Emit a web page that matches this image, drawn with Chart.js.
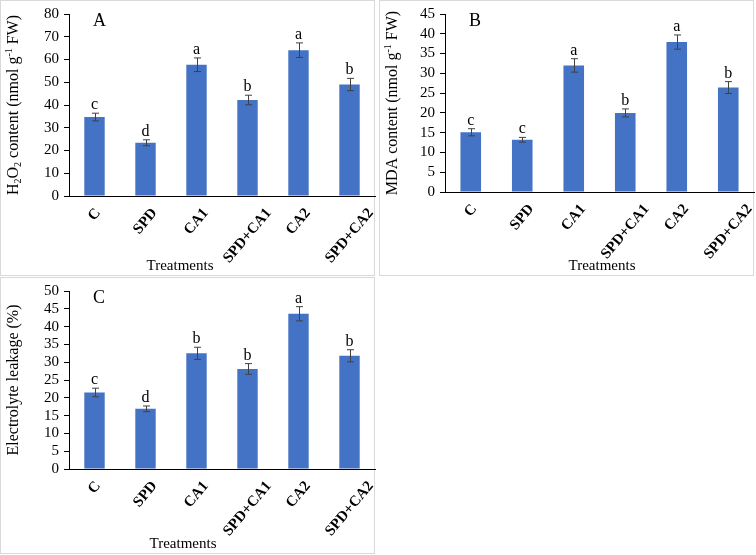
<!DOCTYPE html>
<html>
<head>
<meta charset="utf-8">
<script src="https://cdn.jsdelivr.net/npm/chart.js@4"></script>
<style>
    body { margin: 0; background: #fff; width: 756px; height: 555px; position: relative; overflow: hidden; }
    canvas { position: absolute; }
</style>
</head>
<body>
<canvas id="chartA" width="376" height="276" style="left:0px;top:0px"></canvas>
<canvas id="chartB" width="376" height="276" style="left:379px;top:0px"></canvas>
<canvas id="chartC" width="376" height="277" style="left:0px;top:277px"></canvas>
<script>
const TREATMENTS = ['C', 'SPD', 'CA1', 'SPD+CA1', 'CA2', 'SPD+CA2'];

// A - H2O2
const h2o2 = [34.7, 23.4, 57.7, 42.2, 64.1, 49.0];
const h2o2Err = [1.7, 1.3, 3.0, 2.1, 3.2, 2.7];
const h2o2Letters = ['c', 'd', 'a', 'b', 'a', 'b'];

// B - MDA
const mda = [15.1, 13.2, 32.0, 20.0, 37.9, 26.4];
const mdaErr = [0.9, 0.6, 1.7, 1.0, 1.8, 1.5];
const mdaLetters = ['c', 'c', 'a', 'b', 'a', 'b'];

// C - electrolyte leakage
const leakage = [21.5, 16.9, 32.5, 28.1, 43.6, 31.8];
const leakageErr = [1.2, 0.8, 1.7, 1.5, 2.0, 1.7];
const leakageLetters = ['c', 'd', 'b', 'b', 'a', 'b'];

const SERIF = "'Liberation Serif', 'Times New Roman', serif";
const BAR_COLOR = '#4472C4';
const LABEL_ANGLE = 50 * Math.PI / 180;

// draws text with sub/superscript pieces, rotated -90deg, centered on cx,cy
function drawRichVertical(ctx, parts, cx, cy, size) {
    var small = Math.round(size * 0.65);
    var total = 0;
    parts.forEach(function (p) {
        ctx.font = (p[1] == 'n' ? size : small) + 'px ' + SERIF;
        total += ctx.measureText(p[0]).width;
    });
    ctx.save();
    ctx.translate(cx, cy);
    ctx.rotate(-Math.PI / 2);
    ctx.fillStyle = '#000';
    ctx.textBaseline = 'middle';
    ctx.textAlign = 'left';
    var x = -total / 2;
    parts.forEach(function (p) {
        var dy = 0;
        if (p[1] == 'sub') dy = size * 0.3;
        if (p[1] == 'sup') dy = -size * 0.3;
        ctx.font = (p[1] == 'n' ? size : small) + 'px ' + SERIF;
        ctx.fillText(p[0], x, dy);
        x += ctx.measureText(p[0]).width;
    });
    ctx.restore();
}

const panelDecor = {
    id: 'panelDecor',
    beforeDraw(chart) {
        var ctx = chart.ctx;
        ctx.save();
        ctx.fillStyle = '#fff';
        ctx.fillRect(0, 0, chart.width, chart.height);
        ctx.strokeStyle = '#d9d9d9';
        ctx.lineWidth = 1;
        ctx.strokeRect(0.5, 0.5, chart.width - 2, chart.height - 1);
        ctx.restore();
    },
    afterDatasetsDraw(chart, args, opts) {
        var ctx = chart.ctx;
        var y = chart.scales.y;
        var xs = chart.scales.x;
        var meta = chart.getDatasetMeta(0);
        var vals = chart.data.datasets[0].data;
        ctx.save();
        ctx.strokeStyle = '#404040';
        ctx.lineWidth = 1;
        meta.data.forEach(function (bar, i) {
            var e = opts.err[i];
            var top = y.getPixelForValue(vals[i] + e);
            var bot = y.getPixelForValue(vals[i] - e);
            var x = Math.round(bar.x) + 0.5;
            ctx.beginPath();
            ctx.moveTo(x, top); ctx.lineTo(x, bot);
            ctx.moveTo(x - 3.5, top); ctx.lineTo(x + 3.5, top);
            ctx.moveTo(x - 3.5, bot); ctx.lineTo(x + 3.5, bot);
            ctx.stroke();
            ctx.fillStyle = '#000';
            ctx.font = '16px ' + SERIF;
            ctx.textAlign = 'center';
            ctx.textBaseline = 'alphabetic';
            ctx.fillText(opts.letters[i], bar.x, top - 4);
        });
        // category labels, rotated and centred under each bar (excel style)
        ctx.font = 'bold 15px ' + SERIF;
        ctx.textAlign = 'center';
        ctx.textBaseline = 'middle';
        chart.data.labels.forEach(function (lab, i) {
            var w = ctx.measureText(lab).width;
            var h = 11;
            var half = (w * Math.sin(LABEL_ANGLE) + h * Math.cos(LABEL_ANGLE)) / 2;
            ctx.save();
            ctx.translate(xs.getPixelForValue(i), xs.top + 11 + half);
            ctx.rotate(-LABEL_ANGLE);
            ctx.fillText(lab, 0, 0);
            ctx.restore();
        });
        // panel letter
        ctx.font = '18px ' + SERIF;
        ctx.textAlign = 'left';
        ctx.textBaseline = 'middle';
        ctx.fillText(opts.panel, chart.chartArea.left + 24, 21);
        // axis titles
        ctx.font = '15px ' + SERIF;
        ctx.textAlign = 'center';
        ctx.fillText('Treatments', opts.xTitleX, chart.height - 10);
        drawRichVertical(ctx, opts.yTitle, 14, (chart.chartArea.top + chart.chartArea.bottom) / 2, 16);
        ctx.restore();
    }
};

function makePanel(id, values, errs, letters, panel, yTitle, yMax, step, axisX, axisY, xTitleX) {
    var canvas = document.getElementById(id);
    var H = canvas.height;
    return new Chart(canvas, {
        type: 'bar',
        data: {
            labels: TREATMENTS,
            datasets: [{
                data: values,
                backgroundColor: BAR_COLOR,
                barPercentage: 0.4,
                categoryPercentage: 1.0
            }]
        },
        options: {
            responsive: false,
            animation: false,
            devicePixelRatio: 1,
            layout: { padding: { left: 0, right: 1, top: 10, bottom: 0 } },
            plugins: {
                legend: { display: false },
                tooltip: { enabled: false },
                panelDecor: { err: errs, letters: letters, panel: panel, yTitle: yTitle, xTitleX: xTitleX }
            },
            scales: {
                x: {
                    grid: { display: false, drawTicks: false },
                    border: { display: true, color: '#000', width: 1 },
                    ticks: { display: false },
                    afterFit: function (s) { s.height = H - axisY; }
                },
                y: {
                    min: 0,
                    max: yMax,
                    grid: { display: true, drawOnChartArea: false, drawTicks: true, tickLength: 5, color: '#000' },
                    border: { display: true, color: '#000', width: 1 },
                    ticks: {
                        stepSize: step,
                        autoSkip: false,
                        padding: 5,
                        color: '#000',
                        font: { family: SERIF, size: 15 }
                    },
                    afterFit: function (s) { s.width = axisX; }
                }
            }
        },
        plugins: [panelDecor]
    });
}

makePanel('chartA', h2o2, h2o2Err, h2o2Letters, 'A',
    [['H', 'n'], ['2', 'sub'], ['O', 'n'], ['2', 'sub'], [' content (nmol g', 'n'], ['-1', 'sup'], [' FW)', 'n']],
    80, 10, 69, 196, 180);
makePanel('chartB', mda, mdaErr, mdaLetters, 'B',
    [['MDA content (nmol g', 'n'], ['-1', 'sup'], [' FW)', 'n']],
    45, 5, 66, 192, 223);
makePanel('chartC', leakage, leakageErr, leakageLetters, 'C',
    [['Electrolyte leakage (%)', 'n']],
    50, 5, 69, 192, 183);
</script>
</body>
</html>
